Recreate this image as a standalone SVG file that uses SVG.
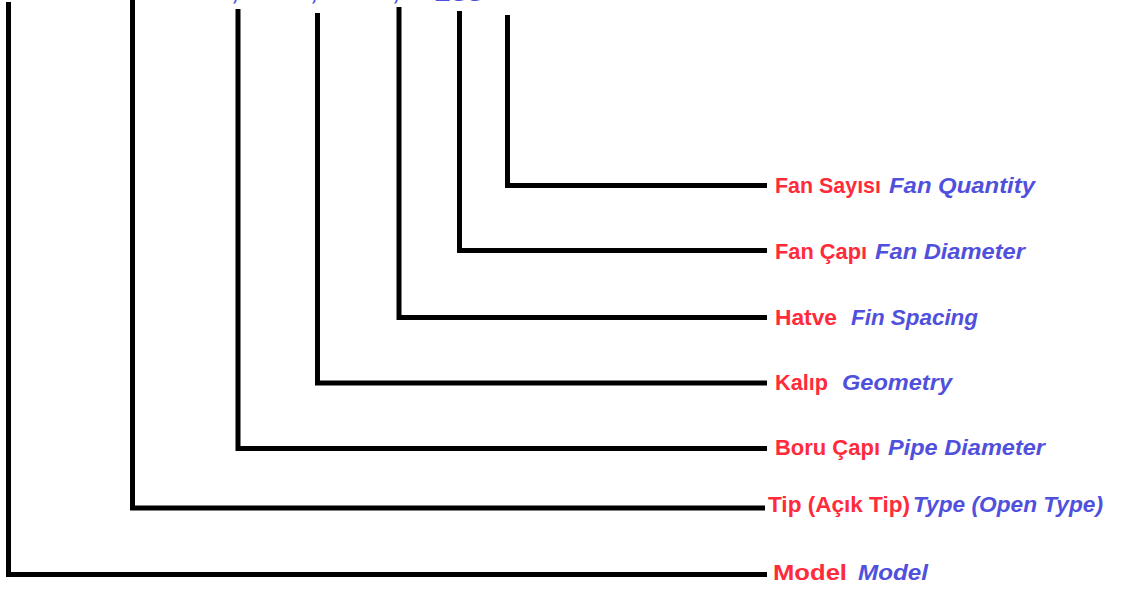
<svg xmlns="http://www.w3.org/2000/svg" width="1122" height="595" viewBox="0 0 1122 595">
<style>
.c{fill:none;stroke:#000;stroke-width:5;stroke-linejoin:miter;stroke-linecap:butt}
.t{font-family:"Liberation Sans",Arial,sans-serif;font-size:22px;font-weight:bold}
.r{fill:#ff2b3b}
.b{fill:#5050dc;font-style:italic}
</style>
<rect width="1122" height="595" fill="#fff"/>
<g id="title" class="t b">
<text x="233" y="0">,</text>
<text x="312" y="0">,</text>
<text x="394" y="0">,</text>
<text x="436" y="0.5" textLength="48" lengthAdjust="spacingAndGlyphs">255</text>
</g>
<g id="connectors">
<path class="c" d="M8.5 2V574.5H767"/>
<path class="c" d="M132.5 0V508H765"/>
<path class="c" d="M238 9V448.5H767"/>
<path class="c" d="M317.5 13V383H767"/>
<path class="c" d="M399 7V317.5H767"/>
<path class="c" d="M459.5 11V250.5H767"/>
<path class="c" d="M507.5 15V185.5H767"/>
</g>
<g id="fan-quantity" class="t">
<text class="r" x="775" y="193" textLength="106" lengthAdjust="spacingAndGlyphs">Fan Sayısı</text>
<text class="b" x="889" y="193" textLength="146" lengthAdjust="spacingAndGlyphs">Fan Quantity</text>
</g>
<g id="fan-diameter" class="t">
<text class="r" x="775" y="259" textLength="92" lengthAdjust="spacingAndGlyphs">Fan Çapı</text>
<text class="b" x="875" y="259" textLength="150" lengthAdjust="spacingAndGlyphs">Fan Diameter</text>
</g>
<g id="fin-spacing" class="t">
<text class="r" x="775" y="325" textLength="62" lengthAdjust="spacingAndGlyphs">Hatve</text>
<text class="b" x="851" y="325" textLength="127" lengthAdjust="spacingAndGlyphs">Fin Spacing</text>
</g>
<g id="geometry" class="t">
<text class="r" x="775" y="390" textLength="53" lengthAdjust="spacingAndGlyphs">Kalıp</text>
<text class="b" x="842" y="390" textLength="110" lengthAdjust="spacingAndGlyphs">Geometry</text>
</g>
<g id="pipe-diameter" class="t">
<text class="r" x="775" y="455" textLength="105" lengthAdjust="spacingAndGlyphs">Boru Çapı</text>
<text class="b" x="888" y="455" textLength="157" lengthAdjust="spacingAndGlyphs">Pipe Diameter</text>
</g>
<g id="type" class="t">
<text class="r" x="768" y="512" textLength="142" lengthAdjust="spacingAndGlyphs">Tip (Açık Tip)</text>
<text class="b" x="913" y="512" textLength="190" lengthAdjust="spacingAndGlyphs">Type (Open Type)</text>
</g>
<g id="model" class="t">
<text class="r" x="773" y="580" textLength="74" lengthAdjust="spacingAndGlyphs">Model</text>
<text class="b" x="858" y="580" textLength="70" lengthAdjust="spacingAndGlyphs">Model</text>
</g>
</svg>
